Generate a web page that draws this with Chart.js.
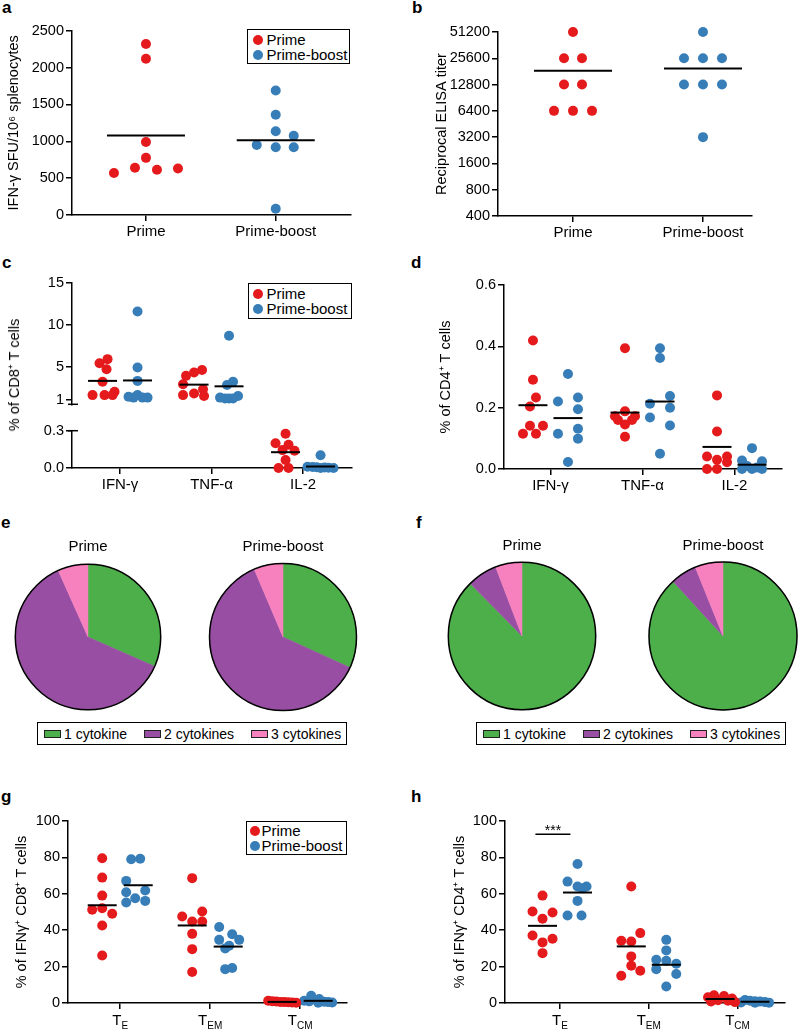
<!DOCTYPE html>
<html>
<head>
<meta charset="utf-8">
<title>Immunogenicity panels</title>
<script src="https://cdn.jsdelivr.net/npm/chart.js@4.4.1/dist/chart.umd.min.js"></script>
<style>
  body { margin: 0; background: #fff; }
  #fig { position: relative; width: 798px; height: 1030px; overflow: hidden; font-family: "Liberation Sans", Arial, sans-serif; color: #000; }
  #fig canvas { position: absolute; }
  .tag { position: absolute; font-weight: bold; font-size: 17px; line-height: 17px; }
  .dleg { position: absolute; border: 1.5px solid #000; box-sizing: border-box; font-size: 15px; line-height: 15px; background: #fff; }
  .dleg div { position: absolute; display: flex; align-items: center; white-space: nowrap; }
  .dleg i { display: inline-block; width: 10px; height: 10px; border-radius: 50%; margin-right: 4px; }
  .pleg { position: absolute; border: 1.5px solid #000; box-sizing: border-box; height: 23px; font-size: 14px; display: flex; align-items: center; padding-left: 6px; white-space: nowrap; }
  .pleg span { display: flex; align-items: center; margin-right: 17px; }
  .pleg i { display: inline-block; width: 15px; height: 6px; border: 1px solid #222; margin-right: 3px; }
  .vt { position: absolute; font-size: 14.5px; white-space: nowrap; transform: translate(-50%, -50%) rotate(-90deg); }
</style>
</head>
<body>
<div id="fig">
  <div class="tag" style="left:2px;top:-1px">a</div>
  <div class="tag" style="left:412px;top:-1px">b</div>
  <div class="tag" style="left:2px;top:254px">c</div>
  <div class="tag" style="left:411px;top:254px">d</div>
  <div class="tag" style="left:1px;top:514px">e</div>
  <div class="tag" style="left:416px;top:514px">f</div>
  <div class="tag" style="left:1px;top:788px">g</div>
  <div class="tag" style="left:411px;top:788px">h</div>

  <canvas id="cA"></canvas>
  <canvas id="cB"></canvas>
  <canvas id="cC1"></canvas>
  <canvas id="cC2"></canvas>
  <canvas id="cD"></canvas>
  <canvas id="cE1"></canvas>
  <canvas id="cE2"></canvas>
  <canvas id="cF1"></canvas>
  <canvas id="cF2"></canvas>
  <canvas id="cG"></canvas>
  <canvas id="cH"></canvas>

  <div class="vt" style="left:12.5px;top:375px">% of CD8⁺ T cells</div>

  <div class="dleg" id="legA" style="left:247px;top:29px;width:103px;height:35px"></div>
  <div class="dleg" id="legC" style="left:248px;top:283px;width:104px;height:36px"></div>
  <div class="dleg" id="legG" style="left:246px;top:821px;width:101px;height:34px"></div>
  <div class="pleg" id="legE" style="left:37px;top:722px;width:310px"></div>
  <div class="pleg" id="legF" style="left:476px;top:722px;width:310px"></div>
</div>

<script>
// ---- data ----

// a: IFN-γ ELISpot
var groups = ['Prime', 'Prime-boost'];
var spotPrime = [2320, 2120, 990, 775, 570, 640, 615, 630];
var spotBoost = [1690, 1360, 1135, 1075, 950, 920, 920, 85];
var spotMean = [1080, 1015];

// b: ELISA titres
var titerTicks = [400, 800, 1600, 3200, 6400, 12800, 25600, 51200];
var titerPrime = [51200, 25600, 25600, 12800, 12800, 6400, 6400, 6400];
var titerBoost = [51200, 25600, 25600, 25600, 12800, 12800, 12800, 3200];
var titerMean = [18400, 19600];

// c, d: cytokine+ T cells, one row per cytokine
var cytokines = ['IFN-γ', 'TNF-α', 'IL-2'];
var cd8Prime = [
  [5.9, 5.4, 4.7, 3.2, 2.0, 1.6, 1.6, 1.6],
  [4.6, 4.3, 3.9, 2.9, 2.3, 1.8, 1.6, 1.5],
  [0.276, 0.199, 0.187, 0.144, 0.139, 0.065, 0, 0]
];
var cd8Boost = [
  [11.6, 4.9, 3.3, 1.6, 1.4, 1.3, 1.3, 1.3],
  [8.7, 3.2, 2.8, 1.5, 1.3, 1.2, 1.2, 1.2],
  [0.103, 0.01, 0.008, 0.006, 0.004, 0.002, 0, 0]
];
var cd8PrimeMean = [3.3, 2.85, 0.127];
var cd8BoostMean = [3.35, 2.65, 0.012];

var cd4Prime = [
  [0.419, 0.291, 0.233, 0.204, 0.141, 0.141, 0.115, 0.115],
  [0.394, 0.188, 0.172, 0.172, 0.16, 0.16, 0.145, 0.105],
  [0.24, 0.122, 0.041, 0.041, 0.03, 0.022, 0, 0]
];
var cd4Boost = [
  [0.31, 0.233, 0.22, 0.195, 0.131, 0.115, 0.099, 0.023],
  [0.394, 0.362, 0.238, 0.213, 0.2, 0.168, 0.142, 0.05],
  [0.068, 0.028, 0.025, 0.01, 0.005, 0, 0, 0]
];
var cd4PrimeMean = [0.208, 0.184, 0.072];
var cd4BoostMean = [0.166, 0.22, 0.014];

// e, f: number of cytokines produced (% of responding cells)
var pieLabels = ['1 cytokine', '2 cytokines', '3 cytokines'];
var cd8PiePrime = [31.6, 61.7, 6.7];
var cd8PieBoost = [31.8, 61.8, 6.4];
var cd4PiePrime = [87.6, 6.6, 5.8];
var cd4PieBoost = [88.2, 5.7, 6.1];

// g, h: memory phenotype of IFNγ+ cells
var phases = [['T', 'E'], ['T', 'EM'], ['T', 'CM']];
var memCd8Prime = [
  [79.5, 68.9, 59, 52.1, 51.2, 49, 42.6, 26.1],
  [68.6, 50.3, 47.5, 44.8, 44.8, 38, 29.6, 17],
  [1.2, 1.0, 0.8, 0.6, 0.5, 0.4, 0.3, 0.2]
];
var memCd8Boost = [
  [79.3, 79, 67.1, 61.8, 60.9, 57.6, 56.1, 55.2],
  [41.8, 37.8, 34.7, 34.7, 31.5, 30, 19.2, 18.6],
  [4.0, 2.2, 1.2, 0.9, 0.7, 0.5, 0.3, 0.2]
];
var memCd8PrimeMean = [53.7, 42.6, 0.6];
var memCd8BoostMean = [64.7, 31, 1.2];

var memCd4Prime = [
  [59, 50.3, 49.7, 46.3, 37.1, 35.3, 33.3, 27.4],
  [64, 38.4, 34.2, 33.8, 25.6, 20.5, 17.7, 15],
  [4.2, 3.8, 3.2, 2.5, 1.5, 1.2, 0.8, 0.5]
];
var memCd4Boost = [
  [76.4, 66.7, 64, 64, 63, 56.1, 48.1, 48.1],
  [34.7, 28.9, 23.8, 23.2, 21.6, 18.6, 15.9, 9.1],
  [1.6, 1.2, 1.0, 0.8, 0.5, 0.3, 0.2, 0.1]
];
var memCd4PrimeMean = [42.4, 31.1, 2.2];
var memCd4BoostMean = [60.7, 21, 0.7];
var sigTE = 92.7; // height of the *** bracket in h

// beeswarm slots (in dot widths), kept apart from the values
var jitSpotPrime = [0, 0, 0, 0, -3.2, -1.1, 1.1, 3.2];
var jitSpotBoost = [0, 0, 0, 1.8, -1.9, 0, 1.8, 0];
var jitTiterPrime = [0, -0.9, 0.9, -0.9, 0.9, -1.9, 0, 1.9];
var jitTiterBoost = [0, -1.9, 0, 1.9, -1.9, 0, 1.9, 0];
var jitCd8Prime = [[0.5, -0.3, 0.4, 0, 1.2, -1, 0.2, 1], [0.8, 0, -0.8, -1.1, 0.9, 0, -1.1, 1], [0, -1, 0.3, -0.3, 0.9, 0, -0.7, 0.3]];
var jitCd8Boost = [[0, 0, 0, 0, -0.9, 1, -0.4, 0.5], [0, 0.4, -0.2, 0.9, -0.9, 0, -0.4, 0.4], [0, -1.3, -0.8, -0.4, 0.4, 0.8, 1.3, 0]];
var jitCd4Prime = [[0, 0, 0.3, -0.3, -0.3, 1, -1, 0.3], [0, 0, -1, 1, -0.7, 0.7, 0, 0], [0, 0, -1, 1, 0, 1, -1, 0]];
var jitCd4Boost = [[0, 1, -1, 1, 1, -1, 1, 0], [0, 0, 1, -1, 1, -1, 1, 0], [0, -1, 1, -0.5, 0.5, -1, 0, 1]];
var jitMemCd8Prime = [[0, 0, 0, 0, -1, 1, 0, 0], [0, 1, -1, 0, 1, 0, 0, 0], [-1.4, -1, -0.6, -0.2, 0.2, 0.6, 1, 1.4]];
var jitMemCd8Boost = [[0.2, -0.7, -1.2, 0.7, -1.2, -0.3, 0.7, -1.2], [-0.9, 0.4, -0.9, 1.1, 0.1, -0.3, 0.4, -0.3], [-0.7, 0.1, -1.4, -0.9, 0.6, 1, 1.4, 0]];
var jitMemCd4Prime = [[0, -1, 1, 0, -1, 1, 0, 0], [0, 0.9, -1, 0, 0, 0, 0.9, -1], [-0.6, 0.4, -1.2, 1.2, -0.2, 0.8, -0.9, 1.5]];
var jitMemCd4Boost = [[0, -1, 0, 0.9, 0.5, 0, -1, 0.4], [0, 0, -1, 0, 1, -1, 1, 0], [-1, -0.5, 0, 0.5, 1, -1.4, 1.4, 0]];

// ---- drawing ----
var FONT = '"Liberation Sans", Arial, sans-serif';
var RED = '#e41a1c', BLUE = '#377eb8';
var pieColors = ['#4daf4a', '#984ea3', '#f781bf'];

Chart.defaults.font.family = FONT;
Chart.defaults.color = '#000';
Chart.defaults.animation = false;
Chart.defaults.responsive = false;
Chart.defaults.devicePixelRatio = 1;
Chart.defaults.plugins.legend.display = false;
Chart.defaults.plugins.tooltip.enabled = false;

function place(cv, b) {
  cv.width = b[2]; cv.height = b[3];
  cv.style.left = b[0] + 'px'; cv.style.top = b[1] + 'px';
}

// box = canvas [left, top, w, h], area = plot [left, top, right, bottom], page px
function dotPlot(id, box, area, o) {
  var cv = document.getElementById(id);
  place(cv, box);
  var ppu = (area[2] - area[0]) / (o.xMax - o.xMin);
  var slot = 10 / ppu, off = o.groupOff / ppu, half = o.half / ppu;
  var datasets = [];
  o.series.forEach(function(s) {
    s.values.forEach(function(vals, k) {
      var cx = s.cat + k + s.side * off;
      datasets.push({
        data: vals.map(function(v, i) { return { x: cx + s.jit[k][i] * slot, y: v }; }),
        backgroundColor: s.color, pointRadius: 5, pointHoverRadius: 5, borderWidth: 0, clip: false, order: 1
      });
      datasets.push({
        data: [{ x: cx - half, y: s.mean[k] }, { x: cx + half, y: s.mean[k] }],
        showLine: true, borderColor: '#000', borderWidth: 2, pointRadius: 0, clip: false, order: 0
      });
    });
  });
  if (o.sig) {
    datasets.push({
      data: [{ x: o.sig.cat - off - 0.08, y: o.sig.y }, { x: o.sig.cat + off - 0.08, y: o.sig.y }],
      showLine: true, borderColor: '#000', borderWidth: 1.5, pointRadius: 0, clip: false, order: 0
    });
  }
  var axisLine = { display: true, color: '#000', width: 1.5 };
  var tickGrid = { display: true, drawOnChartArea: false, drawTicks: true, tickLength: 6, color: '#000', lineWidth: 1.5 };
  return new Chart(cv, {
    type: 'scatter',
    data: { datasets: datasets },
    options: {
      layout: { padding: { left: 0, top: area[1] - box[1], right: box[0] + box[2] - area[2],
                           bottom: o.hideX ? box[1] + box[3] - area[3] : 0 } },
      scales: {
        x: {
          type: 'linear', display: !o.hideX, min: o.xMin, max: o.xMax,
          border: axisLine, grid: tickGrid,
          afterBuildTicks: function(s) { s.ticks = o.cats.map(function(c, i) { return { value: i + 1 }; }); },
          afterFit: function(s) { s.height = box[1] + box[3] - area[3]; },
          ticks: { font: { size: 15 }, padding: 2, maxRotation: 0, autoSkip: false,
                   callback: function(v) { return o.catText ? o.catText[Math.round(v) - 1] : ''; } }
        },
        y: {
          type: o.yType || 'linear', min: o.yMin, max: o.yMax,
          border: axisLine, grid: tickGrid,
          afterBuildTicks: function(s) { s.ticks = o.yTicks.map(function(v) { return { value: v }; }); },
          afterFit: function(s) { s.width = area[0] - box[0]; },
          ticks: { font: { size: 14.5 }, padding: 2, autoSkip: false,
                   callback: o.yFmt || function(v) { return String(v); } },
          title: o.yTitle ? { display: true, text: o.yTitle, font: { size: 14.5 },
                              padding: { top: o.titleX - box[0] - 8.7, bottom: 0 } } : { display: false }
        }
      }
    },
    plugins: o.plugins || []
  });
}

// axis break marks for c
function breakMark(edge) {
  return {
    id: 'break' + edge,
    afterDraw: function(chart) {
      var a = chart.chartArea, ctx = chart.ctx;
      var y = edge === 'bottom' ? a.bottom : a.top;
      ctx.save();
      ctx.strokeStyle = '#000'; ctx.lineWidth = 1.5;
      ctx.beginPath(); ctx.moveTo(a.left - 4, y); ctx.lineTo(a.left + 6, y); ctx.stroke();
      ctx.restore();
    }
  };
}

// T with subscript on the x axis of g and h
var subLabels = {
  id: 'subLabels',
  afterDraw: function(chart) {
    var s = chart.scales.x, ctx = chart.ctx;
    ctx.save();
    ctx.fillStyle = '#000';
    ctx.textBaseline = 'alphabetic';
    ctx.textAlign = 'left';
    phases.forEach(function(p, i) {
      var x = s.getPixelForValue(i + 1);
      ctx.font = '15px ' + FONT;
      var w1 = ctx.measureText(p[0]).width;
      ctx.font = '10px ' + FONT;
      var w2 = ctx.measureText(p[1]).width;
      var x0 = x - (w1 + w2) / 2;
      ctx.font = '15px ' + FONT;
      ctx.fillText(p[0], x0, s.top + 22);
      ctx.font = '10px ' + FONT;
      ctx.fillText(p[1], x0 + w1, s.top + 26);
    });
    ctx.restore();
  }
};

var stars = {
  id: 'stars',
  afterDatasetsDraw: function(chart) {
    var n = chart.data.datasets.length - 1;
    var pts = chart.getDatasetMeta(n).data;
    var ctx = chart.ctx;
    ctx.save();
    ctx.fillStyle = '#000';
    ctx.font = '14px ' + FONT;
    ctx.textAlign = 'center';
    ctx.textBaseline = 'alphabetic';
    ctx.fillText('***', (pts[0].x + pts[1].x) / 2, pts[0].y + 1);
    ctx.restore();
  }
};

// a
dotPlot('cA', [0, 20, 370, 240], [72, 30, 351, 215], {
  xMin: 0.43, xMax: 2.58, groupOff: 0, half: 39, cats: groups, catText: groups,
  yMin: 0, yMax: 2500, yTicks: [0, 500, 1000, 1500, 2000, 2500],
  yTitle: 'IFN-γ SFU/10⁶ splenocytes', titleX: 14,
  series: [
    { cat: 1, side: 0, color: RED, values: [spotPrime], jit: [jitSpotPrime], mean: [spotMean[0]] },
    { cat: 2, side: 0, color: BLUE, values: [spotBoost], jit: [jitSpotBoost], mean: [spotMean[1]] }
  ]
});

// b
dotPlot('cB', [400, 20, 370, 240], [498, 32, 752, 216], {
  xMin: 0.423, xMax: 2.377, groupOff: 0, half: 39, cats: groups, catText: groups,
  yType: 'logarithmic', yMin: 400, yMax: 51200, yTicks: titerTicks,
  yTitle: 'Reciprocal ELISA titer', titleX: 442,
  series: [
    { cat: 1, side: 0, color: RED, values: [titerPrime], jit: [jitTiterPrime], mean: [titerMean[0]] },
    { cat: 2, side: 0, color: BLUE, values: [titerBoost], jit: [jitTiterBoost], mean: [titerMean[1]] }
  ]
});

// c, upper part (IFN-γ, TNF-α)
dotPlot('cC1', [0, 270, 370, 145], [72, 283, 352, 410], {
  xMin: 0.475, xMax: 3.535, groupOff: 17.5, half: 14.5, cats: cytokines, hideX: true,
  yMin: 0.5, yMax: 15, yTicks: [1, 5, 10, 15],
  series: [
    { cat: 1, side: -1, color: RED, values: cd8Prime.slice(0, 2), jit: jitCd8Prime.slice(0, 2), mean: cd8PrimeMean.slice(0, 2) },
    { cat: 1, side: 1, color: BLUE, values: cd8Boost.slice(0, 2), jit: jitCd8Boost.slice(0, 2), mean: cd8BoostMean.slice(0, 2) }
  ],
  plugins: [breakMark('bottom')]
});

// c, lower part (IL-2)
dotPlot('cC2', [0, 420, 370, 85], [72, 427, 352, 468], {
  xMin: 0.475, xMax: 3.535, groupOff: 17.5, half: 14.5, cats: cytokines, catText: cytokines,
  yMin: 0, yMax: 0.3, yTicks: [0, 0.3], yFmt: function(v) { return v.toFixed(1); },
  series: [
    { cat: 3, side: -1, color: RED, values: [cd8Prime[2]], jit: [jitCd8Prime[2]], mean: [cd8PrimeMean[2]] },
    { cat: 3, side: 1, color: BLUE, values: [cd8Boost[2]], jit: [jitCd8Boost[2]], mean: [cd8BoostMean[2]] }
  ],
  plugins: [breakMark('top')]
});

// d
dotPlot('cD', [400, 270, 390, 240], [504, 285, 782, 469], {
  xMin: 0.495, xMax: 3.516, groupOff: 17.5, half: 14.5, cats: cytokines, catText: cytokines,
  yMin: 0, yMax: 0.6, yTicks: [0, 0.2, 0.4, 0.6], yFmt: function(v) { return v.toFixed(1); },
  yTitle: '% of CD4⁺ T cells', titleX: 446,
  series: [
    { cat: 1, side: -1, color: RED, values: cd4Prime, jit: jitCd4Prime, mean: cd4PrimeMean },
    { cat: 1, side: 1, color: BLUE, values: cd4Boost, jit: jitCd4Boost, mean: cd4BoostMean }
  ]
});

// g
dotPlot('cG', [0, 810, 370, 220], [68, 821, 347, 1003], {
  xMin: 0.42, xMax: 3.52, groupOff: 18, half: 14.5, cats: phases,
  yMin: 0, yMax: 100, yTicks: [0, 20, 40, 60, 80, 100],
  yTitle: '% of IFNγ⁺ CD8⁺ T cells', titleX: 22,
  series: [
    { cat: 1, side: -1, color: RED, values: memCd8Prime, jit: jitMemCd8Prime, mean: memCd8PrimeMean },
    { cat: 1, side: 1, color: BLUE, values: memCd8Boost, jit: jitMemCd8Boost, mean: memCd8BoostMean }
  ],
  plugins: [subLabels]
});

// h
dotPlot('cH', [400, 810, 398, 220], [505, 821, 785, 1003], {
  xMin: 0.38, xMax: 3.535, groupOff: 17.5, half: 14.5, cats: phases,
  yMin: 0, yMax: 100, yTicks: [0, 20, 40, 60, 80, 100],
  yTitle: '% of IFNγ⁺ CD4⁺ T cells', titleX: 460,
  sig: { cat: 1, y: sigTE },
  series: [
    { cat: 1, side: -1, color: RED, values: memCd4Prime, jit: jitMemCd4Prime, mean: memCd4PrimeMean },
    { cat: 1, side: 1, color: BLUE, values: memCd4Boost, jit: jitMemCd4Boost, mean: memCd4BoostMean }
  ],
  plugins: [subLabels, stars]
});

// pies: outline only round the rim
var rim = {
  id: 'rim',
  afterDatasetsDraw: function(chart) {
    var a = chart.getDatasetMeta(0).data[0], ctx = chart.ctx;
    ctx.save();
    ctx.beginPath();
    ctx.arc(a.x, a.y, a.outerRadius, 0, Math.PI * 2);
    ctx.lineWidth = 1.5; ctx.strokeStyle = '#000'; ctx.stroke();
    ctx.restore();
  }
};

function pie(id, cx, cy, r, title, values) {
  var cv = document.getElementById(id);
  place(cv, [cx - 85, cy - 107, 170, 184]);
  return new Chart(cv, {
    type: 'pie',
    data: { labels: pieLabels, datasets: [{ data: values, radius: r, backgroundColor: pieColors, borderColor: pieColors, borderWidth: 0.5 }] },
    options: {
      layout: { padding: 0 },
      plugins: { title: { display: true, text: title, font: { size: 15, weight: 'normal' }, padding: { top: 8, bottom: 4 } } }
    },
    plugins: [rim]
  });
}

pie('cE1', 88, 637, 72.7, groups[0], cd8PiePrime);
pie('cE2', 283, 637, 73.5, groups[1], cd8PieBoost);
pie('cF1', 522, 636, 73.7, groups[0], cd4PiePrime);
pie('cF2', 723, 636, 74, groups[1], cd4PieBoost);

// legends
function dotLegend(id, dotLeft, textLeft, rowTops) {
  var el = document.getElementById(id);
  [RED, BLUE].forEach(function(c, i) {
    var row = document.createElement('div');
    row.style.left = dotLeft + 'px';
    row.style.top = rowTops[i] + 'px';
    row.innerHTML = '<i style="background:' + c + ';margin-right:' + (textLeft - dotLeft - 10) + 'px"></i>' + groups[i];
    el.appendChild(row);
  });
}
dotLegend('legA', 4.5, 18.5, [2, 17]);
dotLegend('legC', 3.5, 17.5, [2, 17]);
dotLegend('legG', 2.5, 14.5, [1, 16]);

function pieLegend(id) {
  var el = document.getElementById(id);
  pieLabels.forEach(function(t, i) {
    var sp = document.createElement('span');
    sp.innerHTML = '<i style="background:' + pieColors[i] + '"></i>' + t;
    el.appendChild(sp);
  });
}
pieLegend('legE');
pieLegend('legF');
</script>
</body>
</html>
